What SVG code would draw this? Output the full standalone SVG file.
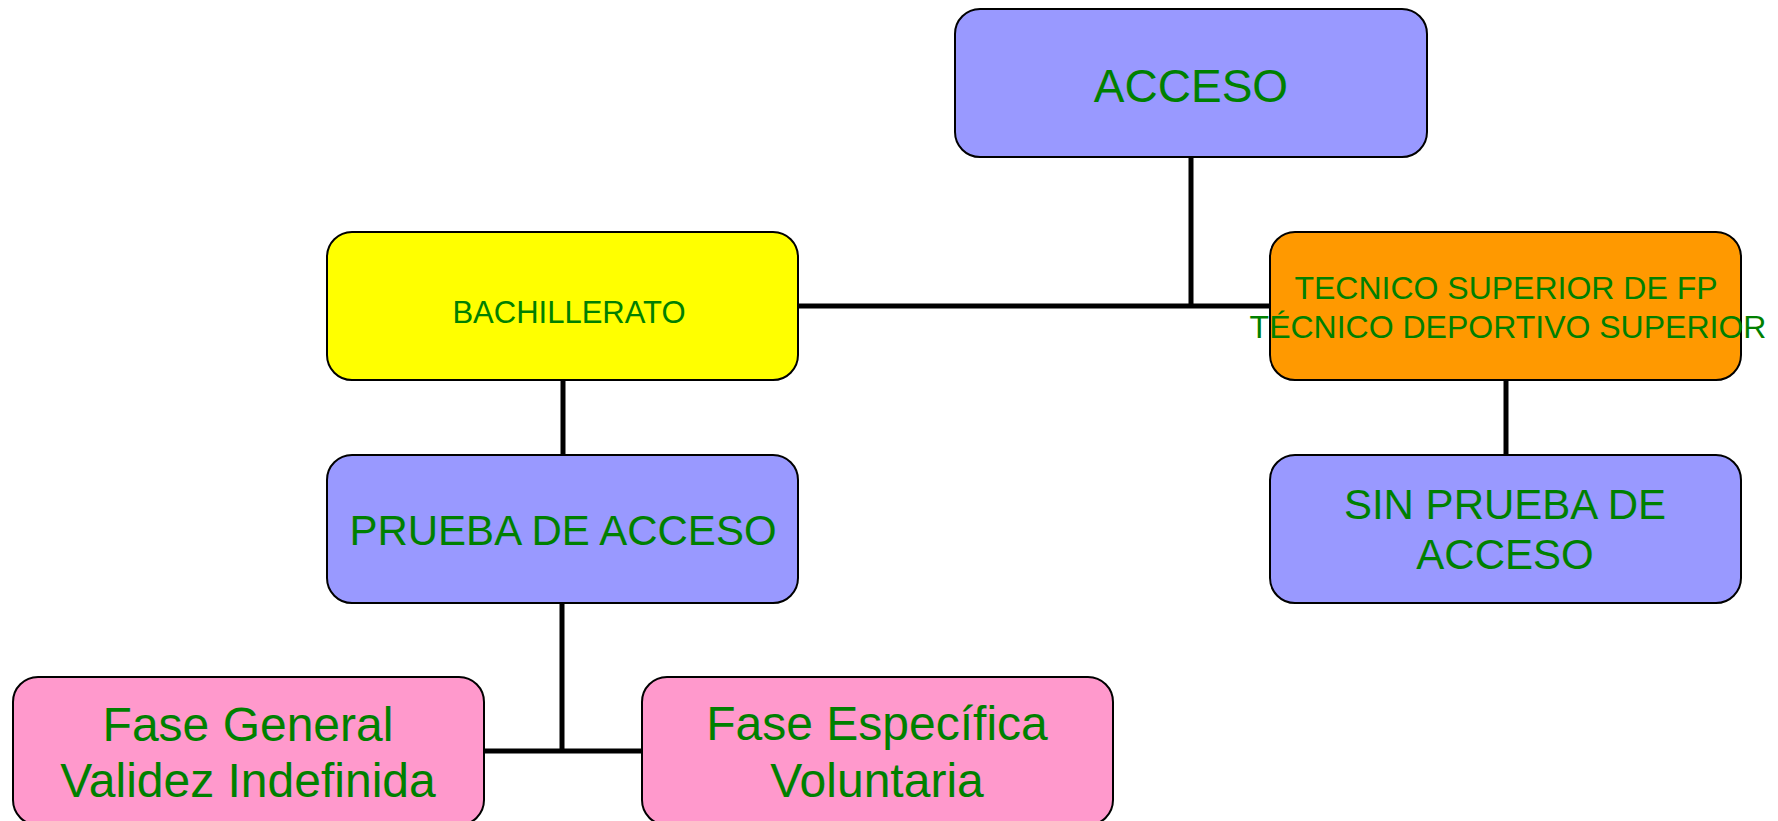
<svg xmlns="http://www.w3.org/2000/svg" width="1778" height="821" viewBox="0 0 1778 821">
<style>
.box{stroke:#000;stroke-width:2}
.blue{fill:#9999FF}
.yellow{fill:#FFFF00}
.orange{fill:#FF9900}
.pink{fill:#FF99CC}
.t{font-family:"Liberation Sans",Arial,sans-serif;fill:#008000;text-anchor:middle}
.conn{stroke:#000;stroke-width:5;fill:none}
</style>
<rect width="1778" height="821" fill="#fff"/>
<g id="connectors">
<path class="conn" d="M1191 157 V306"/>
<path class="conn" d="M798 306 H1270"/>
<path class="conn" d="M563 380 V455"/>
<path class="conn" d="M1506 380 V455"/>
<path class="conn" d="M562 603 V751"/>
<path class="conn" d="M483 751 H642"/>
</g>
<g id="acceso">
<rect class="box blue" x="955" y="9" width="472" height="148" rx="25"/>
<text class="t" x="1191" y="102" font-size="46">ACCESO</text>
</g>
<g id="bachillerato">
<rect class="box yellow" x="327" y="232" width="471" height="148" rx="25"/>
<text class="t" x="569" y="323" font-size="31">BACHILLERATO</text>
</g>
<g id="tecnico">
<rect class="box orange" x="1270" y="232" width="471" height="148" rx="25"/>
<text class="t" x="1506" y="299" font-size="32">TECNICO SUPERIOR DE FP</text>
<text class="t" x="1508" y="338" font-size="32">TÉCNICO DEPORTIVO SUPERIOR</text>
</g>
<g id="prueba">
<rect class="box blue" x="327" y="455" width="471" height="148" rx="25"/>
<text class="t" x="563" y="545" font-size="42">PRUEBA DE ACCESO</text>
</g>
<g id="sinprueba">
<rect class="box blue" x="1270" y="455" width="471" height="148" rx="25"/>
<text class="t" x="1505" y="519" font-size="42">SIN PRUEBA DE</text>
<text class="t" x="1505" y="569" font-size="42">ACCESO</text>
</g>
<g id="fasegeneral">
<rect class="box pink" x="13" y="677" width="471" height="148" rx="25"/>
<text class="t" x="248" y="741" font-size="48">Fase General</text>
<text class="t" x="248" y="797" font-size="48">Validez Indefinida</text>
</g>
<g id="faseespecifica">
<rect class="box pink" x="642" y="677" width="471" height="148" rx="25"/>
<text class="t" x="877" y="740" font-size="48">Fase Específica</text>
<text class="t" x="877" y="797" font-size="48">Voluntaria</text>
</g>
</svg>
